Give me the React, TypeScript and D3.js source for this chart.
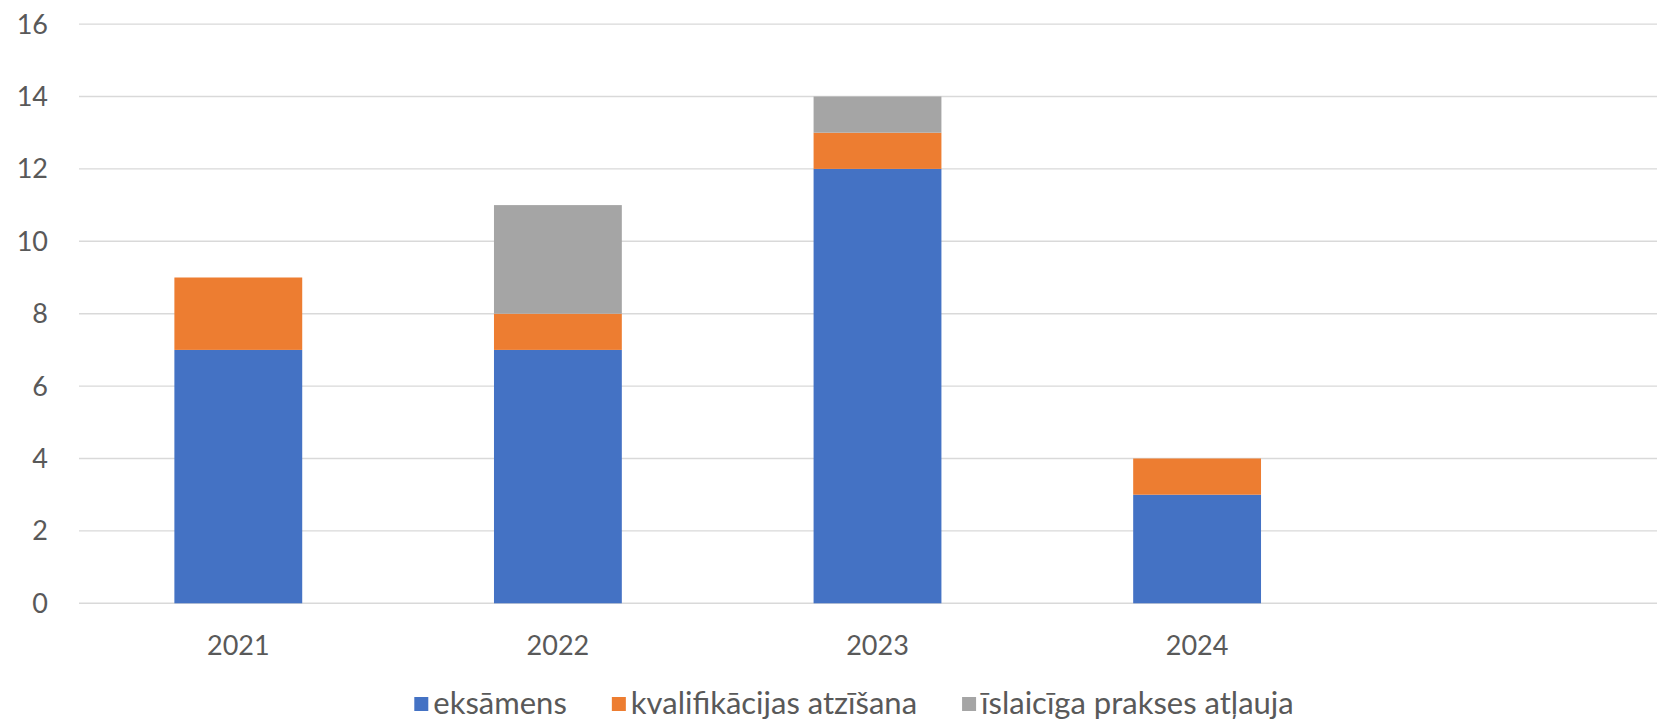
import React, { useEffect, useRef } from 'react';
import * as d3 from 'd3';

const years = ['2021', '2022', '2023', '2024'];
const seriesNames = ['eksāmens', 'kvalifikācijas atzīšana', 'īslaicīga prakses atļauja'];
const eksamens = [7, 7, 12, 3];
const kvalifikacija = [2, 1, 1, 1];
const islaiciga = [0, 3, 1, 0];
const yTicks = [0, 2, 4, 6, 8, 10, 12, 14, 16];
const colors = ['#4472C4', '#ED7D31', '#A5A5A5'];

const W = 1657;
const H = 724;
const FONT = 'Lato, "Open Sans", sans-serif';

const App: React.FC = () => {
  const svgRef = useRef<SVGSVGElement>(null);

  useEffect(() => {
    if (!svgRef.current) return;
    const svg = d3.select(svgRef.current);
    svg.selectAll('*').remove();

    const plotLeft = 79;
    const step = 319.6;
    const x = d3.scaleBand<string>()
      .domain(years)
      .range([plotLeft - 0.5, plotLeft - 0.5 + step * years.length])
      .paddingInner(0.6)
      .paddingOuter(0.3);
    const y = d3.scaleLinear().domain([0, 16]).range([603.3, 24.1]);

    const rows = years.map((yr, i) => ({
      year: yr,
      s0: eksamens[i],
      s1: kvalifikacija[i],
      s2: islaiciga[i],
    }));
    const stack = d3.stack<any>().keys(['s0', 's1', 's2']);
    const layers = stack(rows);

    // gridlines
    svg.append('g')
      .selectAll('line')
      .data(yTicks)
      .enter().append('line')
      .attr('x1', plotLeft)
      .attr('x2', W)
      .attr('y1', d => y(d))
      .attr('y2', d => y(d))
      .attr('stroke', '#d9d9d9')
      .attr('stroke-width', 1.4);

    // y labels
    svg.append('g')
      .selectAll('text')
      .data(yTicks)
      .enter().append('text')
      .attr('x', 48)
      .attr('y', d => y(d))
      .attr('dy', '0.35em')
      .attr('text-anchor', 'end')
      .attr('font-family', FONT)
      .attr('font-size', 27)
      .attr('fill', '#595959')
      .text(d => d);

    // bars
    layers.forEach((layer, li) => {
      svg.append('g')
        .attr('fill', colors[li])
        .selectAll('rect')
        .data(layer.filter(d => d[1] - d[0] > 0))
        .enter().append('rect')
        .attr('x', d => x(d.data.year)!)
        .attr('width', x.bandwidth())
        .attr('y', d => y(d[1]))
        .attr('height', d => y(d[0]) - y(d[1]));
    });

    // x labels
    svg.append('g')
      .selectAll('text')
      .data(years)
      .enter().append('text')
      .attr('x', d => x(d)! + x.bandwidth() / 2)
      .attr('y', 655)
      .attr('text-anchor', 'middle')
      .attr('font-family', FONT)
      .attr('font-size', 27)
      .attr('fill', '#595959')
      .text(d => d);

    // legend
    const legend = svg.append('g');
    const sq = 14;
    const gap = 45;
    let cx = 0;
    seriesNames.forEach((name, i) => {
      const item = legend.append('g').attr('transform', `translate(${cx},0)`);
      item.append('rect')
        .attr('x', 0).attr('y', 697)
        .attr('width', sq).attr('height', sq)
        .attr('fill', colors[i]);
      const t = item.append('text')
        .attr('x', sq + 5)
        .attr('y', 714)
        .attr('font-family', FONT)
        .attr('font-size', 31)
        .attr('fill', '#595959')
        .text(name);
      const tw = (t.node() as SVGTextElement).getComputedTextLength();
      cx += sq + 5 + tw + gap;
    });
    const total = cx - gap;
    legend.attr('transform', `translate(${854 - total / 2},0)`);
  }, []);

  return (
    <svg
      ref={svgRef}
      width={W}
      height={H}
      style={{ position: 'absolute', left: 0, top: 0, display: 'block', background: '#fff' }}
    />
  );
};

export default App;
